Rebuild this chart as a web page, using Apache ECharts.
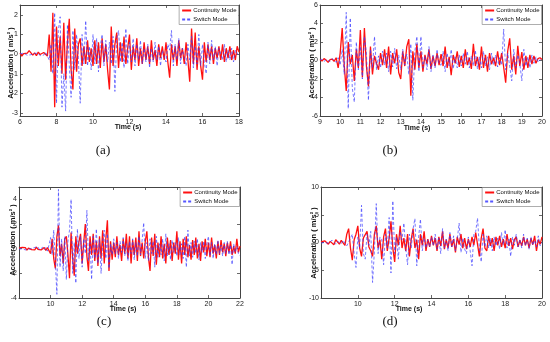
<!DOCTYPE html>
<html>
<head>
<meta charset="utf-8">
<script src="https://cdn.jsdelivr.net/npm/echarts@6/dist/echarts.min.js"></script>
<style>html,body{margin:0;padding:0;background:#fff}#c{width:550px;height:342px}</style>
</head>
<body>
<div id="c"></div>
<script>
// ---- data (acceleration m/s^2, sampled every 0.1 s) ----
const seriesNames = ['Continuity Mode', 'Switch Mode'];
const panelLetters = ['(a)', '(b)', '(c)', '(d)'];

const startA = 6, startB = 9, startC = 8, startD = 8, stepT = 0.1;

const redA = [
 0.05,-0.1,0.02,0.1,0.05,0.18,0.08,-0.05,0.06,-0.08,
 0.1,-0.02,-0.12,0.08,0.02,-0.1,1.0,-0.9,2.1,-2.7,
 1.4,-0.6,0.9,-1.0,1.6,-1.3,0.6,1.8,-0.8,-1.8,
 1.3,-0.9,0.5,0.8,-0.6,0.4,-0.5,0.7,-0.4,0.3,
 -0.6,0.7,-0.5,0.6,-0.7,0.8,-0.4,0.5,-0.8,-1.8,
 1.4,-0.6,0.5,1.1,-0.7,0.6,-0.4,0.9,-0.5,0.3,
 1.0,-0.8,0.4,-0.3,0.8,-0.6,0.3,-0.5,0.6,-0.3,
 0.4,-0.5,0.7,-0.3,0.2,-0.6,0.5,-0.2,0.4,-0.3,
 0.6,-0.4,-1.2,0.5,-0.3,0.4,-0.6,0.7,-0.2,0.3,
 -0.5,0.6,-0.3,-1.4,1.3,-0.5,1.1,-0.8,0.4,-0.6,
 -1.3,0.6,-0.4,0.5,-0.3,0.4,-0.5,0.3,-0.2,0.4,
 -0.3,0.5,-0.4,0.3,-0.2,0.4,-0.3,0.2,-0.3,0.4,
 0.1];
const blueA = [
 0.02,-0.05,0.05,0.0,-0.06,0.04,-0.03,-0.1,0.03,-0.04,
 0.05,-0.08,0.02,-0.05,0.1,0.2,-0.3,0.5,-1.0,2.1,
 -2.5,1.2,1.9,-2.7,-1.0,-2.9,1.5,-0.6,-2.2,1.2,
 -0.8,1.0,-0.3,-2.5,1.0,-0.5,1.7,-0.6,0.4,-0.8,
 1.0,-0.5,0.8,-0.9,0.4,1.0,-0.6,0.7,-0.4,0.6,
 -0.5,0.9,-1.9,0.8,1.2,-0.4,0.6,-0.7,1.3,-0.5,
 0.6,-0.4,0.8,-0.6,0.5,-0.3,0.7,-0.5,0.3,-0.4,
 0.5,-0.7,0.3,-0.4,0.6,-0.3,0.4,-0.6,0.2,0.3,
 -0.4,0.5,0.2,1.2,-0.6,0.5,-0.3,0.8,-0.5,0.3,
 0.4,-0.6,0.5,-0.3,0.9,-0.7,0.4,-0.5,1.0,-0.6,
 0.5,-0.4,-1.0,0.6,-0.5,0.7,-0.3,0.4,-0.6,0.3,
 0.4,-0.3,0.5,-0.4,0.2,-0.3,0.3,-0.4,0.2,0.3,
 -0.1];

const redB = [
 0.1,-0.05,0.2,0.05,-0.2,0.1,0.15,-0.1,0.3,-0.8,
 0.8,3.5,-0.5,-3.3,2.0,-0.4,0.6,-2.2,1.2,-0.8,
 3.3,-1.8,3.5,-0.6,-2.8,1.5,-1.5,0.5,-0.3,-1.0,
 0.8,-0.5,1.2,-0.8,1.5,-1.5,0.8,-0.3,1.2,-1.3,
 -2.0,1.0,-0.6,1.5,2.3,-3.8,1.0,-1.0,1.8,-0.8,
 1.0,-1.2,0.6,-0.4,1.2,-0.9,0.5,-0.6,0.8,-0.5,
 0.7,-0.6,1.5,-0.8,0.4,-1.6,0.6,-0.3,1.0,-0.7,
 0.5,-0.8,1.2,-0.5,0.3,-0.9,1.8,-0.6,0.4,-1.0,
 1.5,-0.8,0.6,-1.2,0.8,-0.4,0.3,-0.6,1.0,-0.5,
 0.8,-0.7,-2.4,1.0,2.4,-1.0,0.5,-1.5,1.6,-0.6,
 0.9,-1.0,0.5,-0.8,0.6,-0.4,0.5,-0.3,0.2,0.3,
 0.1];
const blueB = [
 0.05,0.15,-0.1,0.1,0.0,-0.1,0.2,0.05,-0.2,0.3,
 -0.5,1.2,-1.5,5.2,-5.2,4.6,-3.0,-4.5,2.0,-1.0,
 1.5,-2.0,2.6,0.8,-4.3,1.2,-0.8,2.6,-1.0,0.5,
 -0.8,1.0,-0.5,0.8,-1.2,1.0,-0.7,1.3,-0.9,0.6,
 -1.0,1.2,-0.5,0.7,-1.5,1.8,-4.3,1.0,2.6,-1.2,
 2.6,-0.8,0.5,-1.0,1.5,-1.2,0.6,-0.8,1.2,-0.4,
 -0.5,1.0,-1.2,0.8,-0.6,1.2,-0.9,0.4,-0.8,0.6,
 -0.6,0.8,-0.4,1.0,-0.8,0.5,-0.6,1.1,-0.9,0.4,
 -0.8,1.0,-0.6,0.4,-1.0,0.8,-0.5,0.6,-0.7,0.3,
 -0.5,3.4,-1.0,0.8,-0.6,-2.2,1.2,-0.8,0.6,-0.3,
 -2.2,1.2,-0.6,0.4,-0.8,0.6,-0.3,0.4,-0.2,0.1,
 0.0];

const redC = [
 0.05,-0.1,0.1,-0.05,0.08,-0.12,0.05,0.1,-0.08,0.05,
 -0.1,0.12,-0.05,0.08,-0.1,0.05,0.1,-0.15,0.08,0.2,
 -0.4,0.8,-0.8,-1.6,1.0,1.9,-0.6,0.4,-1.2,0.8,
 1.0,-0.5,-2.4,1.3,-0.8,-2.2,1.0,-0.4,0.6,1.2,
 -1.2,0.5,2.0,-0.6,-1.8,1.0,-0.5,1.2,-1.0,0.6,
 -1.4,1.0,-0.8,1.5,-1.2,0.8,2.3,-1.8,0.6,-0.9,
 0.5,-0.7,1.0,-0.5,0.3,-1.0,0.8,-0.4,1.2,-0.8,
 1.0,-1.2,0.7,-0.5,0.9,-1.0,1.4,-0.6,0.5,-0.8,
 0.6,1.4,-0.7,-1.8,0.9,-0.6,1.2,-1.3,0.5,-0.7,
 1.0,-0.8,0.4,-1.2,0.9,-0.5,0.7,-1.0,0.5,-0.4,
 1.4,-0.9,0.6,-1.2,0.8,-0.5,1.0,-0.7,0.3,-0.9,
 0.7,-0.5,0.9,-0.8,0.4,-1.0,0.6,-0.3,0.8,-0.6,
 0.5,-0.7,0.9,-0.4,0.3,-0.8,0.6,-0.5,0.7,-0.3,
 0.4,-0.6,0.5,-0.3,0.6,-0.5,0.2,-0.4,0.8,-0.3,
 0.2];
const blueC = [
 -0.05,0.1,0.0,0.08,-0.1,0.05,-0.05,0.1,0.02,-0.1,
 0.1,-0.05,0.15,-0.1,0.05,0.12,-0.08,0.1,-0.2,0.3,
 0.9,-0.5,1.5,-1.0,-3.7,4.8,-1.5,0.8,-1.8,1.0,
 -2.5,0.6,1.5,4.0,-2.0,0.5,-2.8,1.6,-0.8,1.0,
 -1.5,0.8,-0.4,3.1,-1.0,0.5,-2.5,1.0,-0.8,1.6,
 -1.2,0.8,-2.0,0.6,1.5,-0.8,1.2,-1.6,0.4,-0.5,
 0.8,-0.4,0.5,-0.8,0.6,-0.3,0.9,-0.6,0.4,-1.0,
 0.6,-0.4,0.8,-0.9,0.5,-0.6,1.0,-0.5,0.7,2.1,
 -0.8,0.5,-1.0,0.8,-0.4,0.6,-1.5,1.0,-0.7,0.4,
 -0.5,0.8,-1.0,1.2,-0.6,0.4,-0.9,0.7,-0.3,0.5,
 -0.6,0.9,-0.5,0.4,-0.8,1.0,-1.5,1.5,-0.6,0.5,
 -0.7,0.6,-0.4,0.8,-0.9,0.5,-0.3,0.6,-0.8,0.4,
 1.0,-0.6,0.5,-0.8,0.4,-0.5,0.7,-0.4,0.3,-0.6,
 0.5,-0.4,0.6,-0.5,0.3,-1.3,0.4,-0.3,0.2,-0.4,
 -0.6];

const redD = [
 0.1,-0.2,0.3,0.0,-0.3,0.2,0.1,-0.4,0.5,0.2,
 -0.3,0.4,0.2,-0.5,1.5,2.5,-1.0,-3.2,0.5,1.5,
 3.0,-1.0,-2.5,0.8,1.0,2.0,-0.8,-1.5,-2.5,1.5,
 3.0,-1.0,0.5,-3.0,1.0,2.5,-1.5,0.8,3.8,-1.0,
 -3.5,1.5,-0.5,3.0,-1.0,0.8,-1.5,1.5,-2.5,0.6,
 2.5,-1.0,0.5,-3.0,1.5,-0.5,2.0,-1.5,0.6,-0.8,
 1.2,-0.5,0.8,-1.5,1.0,-0.6,2.0,-1.2,0.5,-1.0,
 1.5,-0.8,0.6,-1.8,1.0,-0.4,1.5,-1.0,0.8,-1.2,
 0.6,-0.8,1.0,-0.5,1.8,2.0,-2.5,0.8,2.5,-1.0,
 -1.5,1.2,-0.6,0.8,-1.5,1.0,-0.5,1.2,-0.8,0.6,
 -1.0,1.5,-0.6,0.8,-1.2,0.5,1.0,-0.8,0.4,-0.6,
 1.0,-0.5,0.6,-1.0,0.8,-0.4,1.2,-1.5,0.5,-0.3,
 1.0];
const blueD = [
 -0.1,0.2,0.0,0.3,-0.1,-0.2,0.4,0.1,-0.3,0.2,
 0.1,-0.2,0.4,0.3,-0.6,-0.5,0.8,1.5,-2.0,-4.5,
 1.0,-1.0,6.7,-2.0,-3.0,1.5,-0.5,2.0,-7.2,-1.5,
 7.0,-2.0,1.0,0.5,-4.0,1.5,-1.0,4.5,-5.5,7.5,
 -2.0,1.0,-3.0,2.0,0.5,3.5,-1.0,-4.0,1.5,-1.0,
 2.5,4.3,-4.2,1.0,4.2,-1.5,0.8,-1.0,0.5,-0.8,
 1.0,-0.6,1.5,-1.2,0.8,-2.0,2.5,-1.0,0.6,-1.5,
 1.8,-0.8,1.2,-1.5,0.6,3.5,-1.8,0.8,-1.2,-2.0,
 1.0,-1.5,-4.2,1.5,2.0,4.4,-1.0,-3.5,1.5,-0.8,
 1.2,-1.0,0.8,-1.5,1.0,-0.6,0.8,-1.2,1.8,-0.5,
 2.3,-1.0,0.6,-2.5,1.0,-0.5,1.5,-0.8,0.6,-1.0,
 1.5,-0.6,0.8,-1.2,1.0,-0.5,0.4,-0.8,1.2,-0.6,
 0.0];

// axis ranges & tick labels
const xRanges = [[6,18],[9,20],[8,22],[8,20]];
const xTicks = [[6,8,10,12,14,16,18],[9,10,11,12,13,14,15,16,17,18,19,20],[10,12,14,16,18,20,22],[10,12,14,16,18,20]];
const yRanges = [[-3.15,2.5],[-6,6],[-4,5],[-10,10]];
const yTicks = [[-3,-2,-1,0,1,2],[-6,-4,-2,0,2,4,6],[-4,-2,0,2,4],[-10,-5,0,5,10]];

// ---- layout ----
const grids = [
  {left:20, top:5, width:219, height:111},
  {left:320, top:5, width:222, height:111},
  {left:19, top:187, width:221, height:111},
  {left:321, top:187, width:221, height:111}
];
const FONT = "'Liberation Sans Narrow','Liberation Sans',Arial,sans-serif";

function pairs(t0, vals){ return vals.map((v,i)=>[Math.round((t0+i*stepT)*100)/100, v]); }

const reds = [pairs(startA,redA), pairs(startB,redB), pairs(startC,redC), pairs(startD,redD)];
const blues = [pairs(startA,blueA), pairs(startB,blueB), pairs(startC,blueC), pairs(startD,blueD)];

const xAxes = [], yAxes = [], series = [], legends = [];
const axisLine = {show:true, onZero:false, lineStyle:{color:'#444', width:1}};
const tickBase = {show:true, inside:true, length:3, lineStyle:{color:'#444', width:0.8}};

for (let k=0;k<4;k++){
  xAxes.push({type:'value', gridIndex:k, position:'bottom', min:xRanges[k][0], max:xRanges[k][1],
    axisLine, axisTick:Object.assign({customValues:xTicks[k]}, tickBase),
    axisLabel:{customValues:xTicks[k], fontSize:7, color:'#222', fontFamily:FONT, margin:3},
    splitLine:{show:false}});
  yAxes.push({type:'value', gridIndex:k, position:'left', min:yRanges[k][0], max:yRanges[k][1],
    axisLine, axisTick:Object.assign({customValues:yTicks[k]}, tickBase),
    axisLabel:{customValues:yTicks[k], fontSize:7, color:'#222', fontFamily:FONT, margin:2},
    splitLine:{show:false}});
}
for (let k=0;k<4;k++){
  xAxes.push({type:'value', gridIndex:k, position:'top', min:xRanges[k][0], max:xRanges[k][1],
    axisLine, axisTick:Object.assign({customValues:xTicks[k]}, tickBase),
    axisLabel:{show:false}, splitLine:{show:false}});
  yAxes.push({type:'value', gridIndex:k, position:'right', min:yRanges[k][0], max:yRanges[k][1],
    axisLine, axisTick:Object.assign({customValues:yTicks[k]}, tickBase),
    axisLabel:{show:false}, splitLine:{show:false}});
}
for (let k=0;k<4;k++){
  series.push({name:seriesNames[0], type:'line', xAxisIndex:k, yAxisIndex:k, data:reds[k],
    symbol:'none', showSymbol:false, silent:true, z:2,
    lineStyle:{color:'#ff1010', width:1.3}, itemStyle:{color:'#ff1010'}});
  series.push({name:seriesNames[1], type:'line', xAxisIndex:k, yAxisIndex:k, data:blues[k],
    symbol:'none', showSymbol:false, silent:true, z:3,
    lineStyle:{color:'#3a3aff', width:0.8, type:[3,2], opacity:0.85}, itemStyle:{color:'#3a3aff'}});
  const g = grids[k];
  legends.push({data:seriesNames, orient:'vertical', selectedMode:false,
    right: 550 - (g.left + g.width) + 0.5, top: g.top + 0.5,
    itemWidth:9, itemHeight:6, itemGap:3, padding:[2,2,2,2],
    itemStyle:{opacity:0, borderWidth:0},
    borderColor:'#777', borderWidth:0.6, backgroundColor:'#fff',
    textStyle:{fontSize:6, color:'#111', fontFamily:FONT, padding:[0,0,0,-3]}});
}

const yLabelPos = [[10.5,63],[311.5,63],[12.5,240],[313.5,243]];
const tLabelPos = [[128,127],[417,128],[123,309],[409,309]];
const capPos = [[103,151],[390,151],[104,322],[390,322]];
const graphics = [];
for (let k=0;k<4;k++){
  graphics.push({type:'text', x:yLabelPos[k][0], y:yLabelPos[k][1], rotation:Math.PI/2,
    style:{text:'Acceleration ( m/s² )', font:"bold 7.5px " + "'Liberation Sans',Arial,sans-serif", fill:'#111', align:'center', verticalAlign:'middle'}});
  graphics.push({type:'text', x:tLabelPos[k][0], y:tLabelPos[k][1],
    style:{text:'Time (s)', font:"bold 7px " + FONT, fill:'#111', align:'center', verticalAlign:'middle'}});
  graphics.push({type:'text', x:capPos[k][0], y:capPos[k][1],
    style:{text:panelLetters[k], font:"13px 'Liberation Serif','DejaVu Serif',serif", fill:'#111', align:'center', verticalAlign:'middle'}});
}

const chart = echarts.init(document.getElementById('c'), null, {renderer:'canvas'});
chart.setOption({
  animation:false,
  backgroundColor:'#fff',
  grid:grids.map(g=>Object.assign({show:true, backgroundColor:'#fff', borderColor:'#444', borderWidth:0, containLabel:false}, g)),
  xAxis:xAxes, yAxis:yAxes, series, legend:legends, graphic:graphics
});
</script>
</body>
</html>
